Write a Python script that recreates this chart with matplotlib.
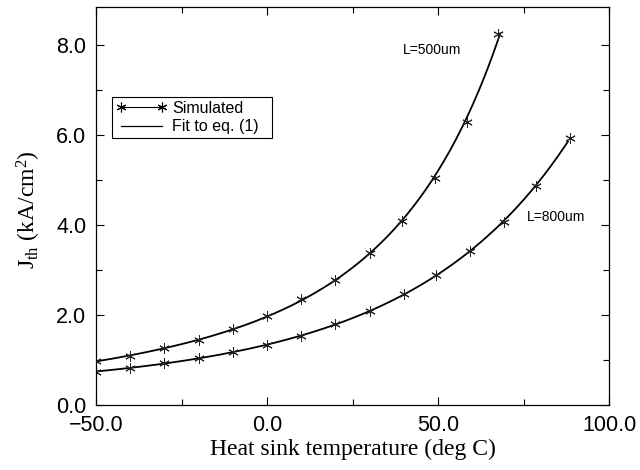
import numpy as np
import matplotlib
matplotlib.use("Agg")
import matplotlib.pyplot as plt
from matplotlib.lines import Line2D
from matplotlib.ticker import MultipleLocator, FuncFormatter

# simulated points
t_500 = [-50, -40, -30, -20, -10, 0, 10, 20, 30, 39.5, 49, 58.5, 67.5]
j_500 = [0.98, 1.09, 1.26, 1.44, 1.68, 1.98, 2.35, 2.79, 3.37, 4.10, 5.05, 6.29, 8.24]

t_800 = [-50, -40, -30, -20, -10, 0, 10, 20, 30, 40, 49.5, 59.3, 69.3, 78.8, 88.5]
j_800 = [0.74, 0.83, 0.93, 1.04, 1.17, 1.33, 1.53, 1.81, 2.09, 2.46, 2.90, 3.42, 4.08, 4.88, 5.94]

# range covered by the fitted curves
fit_range_500 = (-50, 68.2)
fit_range_800 = (-50, 88.0)

plt.rcParams['font.family'] = ['Liberation Sans', 'DejaVu Sans']
plt.rcParams['mathtext.fontset'] = 'custom'
plt.rcParams['mathtext.rm'] = 'Liberation Serif'
plt.rcParams['mathtext.it'] = 'Liberation Serif:italic'

fig = plt.figure(figsize=(6.4, 4.7), dpi=100)
ax = fig.add_axes([96 / 640, 1 - 405 / 470, (609 - 96) / 640, (405 - 7) / 470])

star = (6, 2, 0)


def fit_curve(t, j, rng):
    """fit log(J) by a cubic, as in eq. (1)"""
    c = np.polyfit(t, np.log(j), 3)
    tt = np.linspace(rng[0], rng[1], 200)
    return tt, np.exp(np.polyval(c, tt))


for t, j, rng in [(t_500, j_500, fit_range_500), (t_800, j_800, fit_range_800)]:
    tt, jj = fit_curve(t, j, rng)
    ax.plot(tt, jj, color='black', lw=1.3)
    ax.plot(t, j, linestyle='none', marker=star, markersize=7.5,
            mew=0.7, color='#222222')

ax.text(48.2, 7.89, 'L=500um', fontsize=10, ha='center', va='center')
ax.text(84.5, 4.18, 'L=800um', fontsize=10, ha='center', va='center')

ax.set_xlim(-50, 100)
ax.set_ylim(0, 8.85)
fmt = FuncFormatter(lambda v, p: ('%.1f' % v).replace('-', '\u2212'))
ax.xaxis.set_major_locator(MultipleLocator(50))
ax.xaxis.set_minor_locator(MultipleLocator(25))
ax.yaxis.set_major_locator(MultipleLocator(2))
ax.yaxis.set_minor_locator(MultipleLocator(1))
ax.xaxis.set_major_formatter(fmt)
ax.yaxis.set_major_formatter(fmt)
ax.tick_params(which='both', direction='in', top=True, right=True,
               labelsize=15.5, width=0.8)
ax.tick_params(which='major', length=6, pad=7)
ax.tick_params(which='minor', length=4)
for s in ax.spines.values():
    s.set_linewidth(0.9)

ax.set_xlabel('Heat sink temperature (deg C)', fontsize=17,
              family='Liberation Serif', labelpad=2)
ax.set_ylabel(r'J$_{\rm th}$ (kA/cm$^2$)', fontsize=17,
              family='Liberation Serif')
ax.yaxis.set_label_coords(-0.103, 0.49)

handles = [Line2D([], [], color='black', lw=0.8, marker=star, markersize=7,
                  mew=0.8),
           Line2D([], [], color='black', lw=0.9)]
leg = ax.legend(handles, ['Simulated', 'Fit to eq. (1)  '], loc='upper left',
                bbox_to_anchor=((112 - 96) / 513, (405 - 97) / 398),
                numpoints=2, fontsize=11.5, fancybox=False, framealpha=1,
                edgecolor='black', borderpad=0.25, labelspacing=0.2,
                handlelength=3.2, handletextpad=0.3, borderaxespad=0)
leg.get_frame().set_linewidth(0.8)

fig.savefig('out.png', dpi=100)
